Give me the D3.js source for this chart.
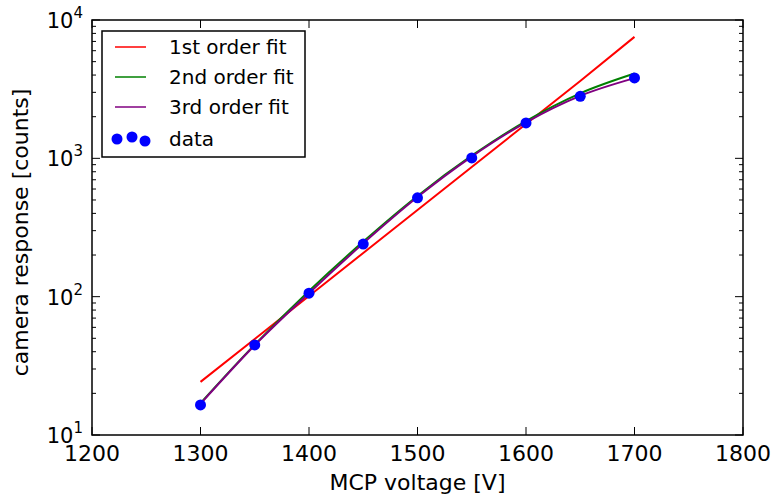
<!DOCTYPE html>
<html>
<head>
<meta charset="utf-8">
<script src="https://cdn.jsdelivr.net/npm/d3@7"></script>
<style>
  body { margin: 0; background: #fff; }
  svg text { font-family: "DejaVu Sans", sans-serif; fill: #000; }
</style>
</head>
<body>
<svg id="canvas" width="772" height="501"></svg>
<script>
// MCP voltage [V]
const voltage = [1300, 1350, 1400, 1450, 1500, 1550, 1600, 1650, 1700]
// measured camera response [counts]
const counts = [16.5, 44.8, 106, 240, 518, 1007, 1803, 2808, 3810]
// fitted curves at the same voltages
const fit1 = [24.2, 49.5, 101, 207, 423, 866, 1770, 3620, 7550]
const fit2 = [17, 45, 110, 250, 535, 1045, 1860, 2950, 4100]
const fit3 = [16.8, 44.5, 106, 243, 525, 1030, 1820, 2830, 3800]

const xTicks = [1200, 1300, 1400, 1500, 1600, 1700, 1800]
const yTicks = [10, 100, 1000, 10000]

const svg = d3.select('#canvas')
const margin = {left: 92, right: 29, top: 20, bottom: 66}
const width = 772 - margin.left - margin.right
const height = 501 - margin.top - margin.bottom

const x = d3.scaleLinear().domain([1200, 1800]).range([0, width])
const y = d3.scaleLog().domain([10, 10000]).range([height, 0])

const g = svg.append('g').attr('transform', 'translate(' + margin.left + ',' + margin.top + ')')

// minor ticks for log axis
const minor = []
for (let dec = 10; dec < 10000; dec *= 10) {
    for (let k = 2; k <= 9; k++) minor.push(dec * k)
}

const tickG = g.append('g')
xTicks.forEach((t)=>{
    tickG.append('line').attr('x1', x(t)).attr('x2', x(t)).attr('y1', height).attr('y2', height - 8)
    tickG.append('line').attr('x1', x(t)).attr('x2', x(t)).attr('y1', 0).attr('y2', 8)
})
yTicks.forEach((t)=>{
    tickG.append('line').attr('x1', 0).attr('x2', 8).attr('y1', y(t)).attr('y2', y(t))
    tickG.append('line').attr('x1', width).attr('x2', width - 8).attr('y1', y(t)).attr('y2', y(t))
})
minor.forEach((t)=>{
    tickG.append('line').attr('x1', 0).attr('x2', 4).attr('y1', y(t)).attr('y2', y(t))
    tickG.append('line').attr('x1', width).attr('x2', width - 4).attr('y1', y(t)).attr('y2', y(t))
})
tickG.selectAll('line').attr('stroke', '#000').attr('stroke-width', 1)

// tick labels
g.append('g').selectAll('text').data(xTicks).enter().append('text')
    .attr('x', (d)=>x(d)).attr('y', height + 26)
    .attr('text-anchor', 'middle').attr('font-size', 22)
    .text((d)=>d)

const yl = g.append('g').selectAll('text').data(yTicks).enter().append('text')
    .attr('x', -9).attr('y', (d)=>y(d) + 8)
    .attr('text-anchor', 'end').attr('font-size', 21)
yl.append('tspan').text('10')
yl.append('tspan').attr('dy', -10).attr('font-size', 15).text((d)=>Math.round(Math.log10(d)))

// axis titles
svg.append('text').attr('x', margin.left + width / 2).attr('y', 490)
    .attr('text-anchor', 'middle').attr('font-size', 22).text('MCP voltage [V]')
svg.append('text').attr('transform', 'translate(28,' + (margin.top + height / 2 + 5) + ') rotate(-90)')
    .attr('text-anchor', 'middle').attr('font-size', 22).text('camera response [counts]')

// curves
const line = (vals, curve)=>d3.line()
    .x((d, i)=>x(voltage[i]))
    .y((d)=>y(d))
    .curve(curve)(vals)

g.append('path').attr('d', line(fit1, d3.curveLinear)).attr('fill', 'none').attr('stroke', '#ff0000').attr('stroke-width', 2)
g.append('path').attr('d', line(fit2, d3.curveMonotoneX)).attr('fill', 'none').attr('stroke', '#008000').attr('stroke-width', 2)
g.append('path').attr('d', line(fit3, d3.curveMonotoneX)).attr('fill', 'none').attr('stroke', '#800080').attr('stroke-width', 2)

g.append('g').selectAll('circle').data(counts).enter().append('circle')
    .attr('cx', (d, i)=>x(voltage[i])).attr('cy', (d)=>y(d))
    .attr('r', 5.5).attr('fill', '#0000ff')

// frame
g.append('rect').attr('width', width).attr('height', height)
    .attr('fill', 'none').attr('stroke', '#000').attr('stroke-width', 1.5)

// legend
const legendNames = ['1st order fit', '2nd order fit', '3rd order fit']
const legendColors = ['#ff0000', '#008000', '#800080']
const leg = svg.append('g').attr('transform', 'translate(102,31)')
leg.append('rect').attr('width', 203).attr('height', 126)
    .attr('fill', '#fff').attr('stroke', '#000').attr('stroke-width', 1.5)
legendNames.forEach((name, i)=>{
    const yy = 16 + i * 30
    leg.append('line').attr('x1', 13).attr('x2', 44).attr('y1', yy).attr('y2', yy)
        .attr('stroke', legendColors[i]).attr('stroke-width', 1.5)
    leg.append('text').attr('x', 67).attr('y', yy + 7).attr('font-size', 20).text(name)
})
const dotOffsets = [[15, 108], [30, 106], [43, 110]]
dotOffsets.forEach((p)=>{
    leg.append('circle').attr('cx', p[0]).attr('cy', p[1]).attr('r', 5.5).attr('fill', '#0000ff')
})
leg.append('text').attr('x', 67).attr('y', 115).attr('font-size', 20).text('data')
</script>
</body>
</html>
